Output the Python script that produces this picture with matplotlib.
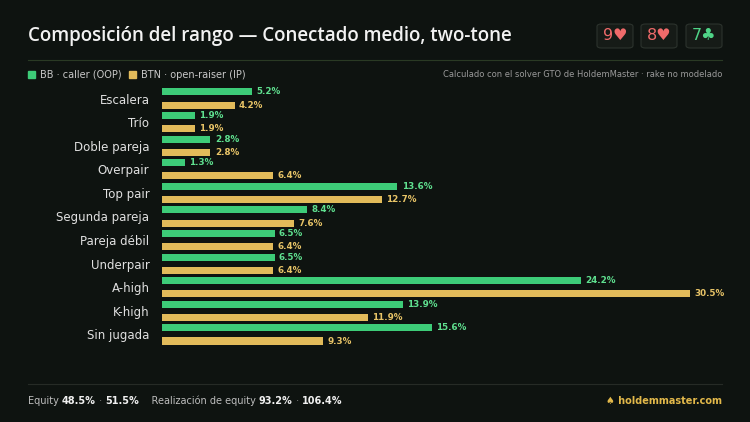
import matplotlib.pyplot as plt
from matplotlib.patches import FancyBboxPatch

categories = ["Escalera", "Trío", "Doble pareja", "Overpair", "Top pair", "Segunda pareja",
              "Pareja débil", "Underpair", "A-high", "K-high", "Sin jugada"]
bb_values = [5.2, 1.9, 2.8, 1.3, 13.6, 8.4, 6.5, 6.5, 24.2, 13.9, 15.6]
btn_values = [4.2, 1.9, 2.8, 6.4, 12.7, 7.6, 6.4, 6.4, 30.5, 11.9, 9.3]

BG = "#0e1310"
GREEN = "#3dcc78"
GOLD = "#e2bb5a"
GREEN_TXT = "#5fe08f"
GOLD_TXT = "#e8c467"

fig = plt.figure(figsize=(7.5, 4.22), dpi=100)
fig.patch.set_facecolor(BG)

# title and cards
fig.text(28 / 750, 1 - 36 / 422, "Composición del rango — Conectado medio, two-tone",
         fontsize=13.5, color="#f2f2f2", va="center", ha="left", fontweight="semibold",
         family="Open Sans")
for x, txt, col in [(597, "9♥", "#f06a6a"), (641, "8♥", "#f06a6a"), (686, "7♣", "#4fd487")]:
    fig.patches.append(FancyBboxPatch((x / 750, 1 - 48 / 422), 36 / 750, 24 / 422,
                                      boxstyle="round,pad=0,rounding_size=0.006",
                                      transform=fig.transFigure, facecolor="#161b17",
                                      edgecolor="#2c332d", linewidth=0.8))
    fig.text((x + 18) / 750, 1 - 36 / 422, txt, color=col, fontsize=11.5,
             ha="center", va="center", family=["DejaVu Sans"])
fig.add_artist(plt.Line2D([28 / 750, 722 / 750], [1 - 60 / 422] * 2,
                          transform=fig.transFigure, color="#2a3a24", lw=0.8))

# legend row
fig.patches.append(plt.Rectangle((28 / 750, 1 - 78 / 422), 7 / 750, 7 / 422,
                                 transform=fig.transFigure, color=GREEN))
fig.text(40 / 750, 1 - 74.5 / 422, "BB · caller (OOP)", color="#c8c8c8", fontsize=7, va="center")
fig.patches.append(plt.Rectangle((129 / 750, 1 - 78 / 422), 7 / 750, 7 / 422,
                                 transform=fig.transFigure, color=GOLD))
fig.text(141 / 750, 1 - 74.5 / 422, "BTN · open-raiser (IP)", color="#c8c8c8", fontsize=7, va="center")
fig.text(722 / 750, 1 - 74.5 / 422,
         "Calculado con el solver GTO de HoldemMaster · rake no modelado",
         color="#9a9a9a", fontsize=6, va="center", ha="right")

# bars
ax = fig.add_axes([162 / 750, 0.174, 538 / 750, 0.626])
ax.set_facecolor("none")
pos = list(range(len(categories)))
off, h = 0.28, 0.3
ax.barh([p - off for p in pos], bb_values, height=h, color=GREEN)
ax.barh([p + off for p in pos], btn_values, height=h, color=GOLD)
for p, v in zip(pos, bb_values):
    ax.text(v + 0.25, p - off, f"{v}%", color=GREEN_TXT, fontsize=6.3,
            va="center", fontweight="bold")
for p, v in zip(pos, btn_values):
    ax.text(v + 0.25, p + off, f"{v}%", color=GOLD_TXT, fontsize=6.3,
            va="center", fontweight="bold")
ax.set_xlim(0, 31.08)
ax.set_ylim(10.6, -0.6)
ax.set_yticks(pos)
ax.set_yticklabels(categories, color="#e0e0e0", fontsize=8.5)
ax.tick_params(axis="y", length=0, pad=9)
ax.set_xticks([])
for s in ax.spines.values():
    s.set_visible(False)

# footer
fig.add_artist(plt.Line2D([28 / 750, 722 / 750], [1 - 384 / 422] * 2,
                          transform=fig.transFigure, color="#262b26", lw=0.8))
fy = 1 - 401 / 422
parts = [("Equity ", "#bdbdbd", "normal"), ("48.5%", "#f0f0f0", "bold"),
         (" · ", "#888888", "normal"), ("51.5%", "#f0f0f0", "bold"),
         ("    Realización de equity ", "#bdbdbd", "normal"), ("93.2%", "#f0f0f0", "bold"),
         (" · ", "#888888", "normal"), ("106.4%", "#f0f0f0", "bold")]
fig.canvas.draw()
r = fig.canvas.get_renderer()
x = 28 / 750
for txt, col, w in parts:
    t = fig.text(x, fy, txt, color=col, fontsize=7, fontweight=w, va="center")
    bb = t.get_window_extent(renderer=r)
    x += bb.width / fig.bbox.width
fig.text(722 / 750, fy, "♠ holdemmaster.com", color="#e2b84a", fontsize=7,
         fontweight="bold", ha="right", va="center")

fig.savefig("out.png", dpi=100, facecolor=BG)
